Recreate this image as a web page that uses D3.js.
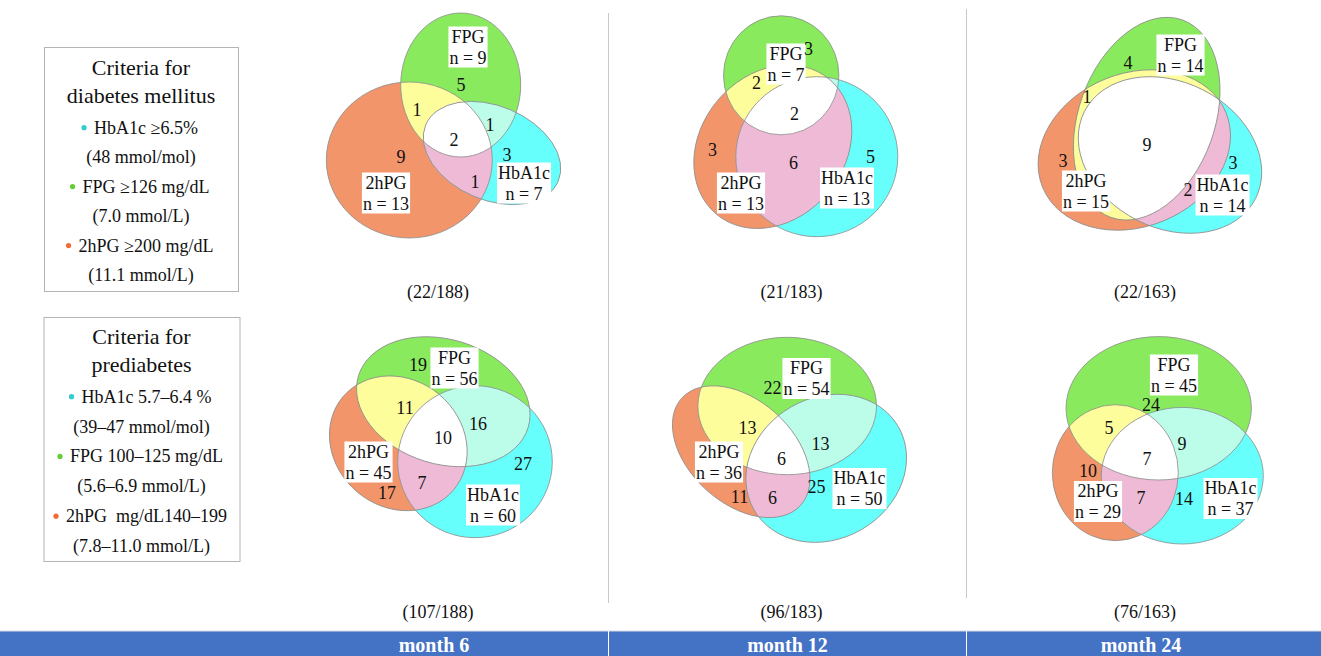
<!DOCTYPE html>
<html lang="en">
<head>
<meta charset="utf-8">
<title>Diabetes and prediabetes criteria</title>
<script src="https://d3js.org/d3.v7.min.js"></script>
<style>
  body { margin: 0; background: #fff; }
  svg { display: block; }
  svg text { font-family: "Liberation Serif", "Times New Roman", "DejaVu Serif", serif; }
</style>
</head>
<body>
<svg id="chart" width="1321" height="656"></svg>
<script>
// ---- data ----
const months = ["month 6", "month 12", "month 24"];
const cohort = [188, 183, 163];
const sets = ["FPG", "2hPG", "HbA1c"];
// regions: FPG only, 2hPG only, HbA1c only, FPG+2hPG, FPG+HbA1c, 2hPG+HbA1c, all three
const regionSets = [[0], [1], [2], [0, 1], [0, 2], [1, 2], [0, 1, 2]];
const diabetes = [[5, 9, 3, 1, 1, 1, 2], [3, 3, 5, 2, 0, 6, 2], [4, 3, 3, 1, 0, 2, 9]];
const prediabetes = [[19, 17, 27, 11, 16, 7, 10], [22, 11, 25, 13, 13, 6, 6], [24, 10, 14, 5, 9, 7, 7]];

const legendTitles = [["Criteria for", "diabetes mellitus"], ["Criteria for", "prediabetes"]];
const legendLines = [
  ["HbA1c ≥6.5%", "(48 mmol/mol)", "FPG ≥126 mg/dL", "(7.0 mmol/L)", "2hPG ≥200 mg/dL", "(11.1 mmol/L)"],
  ["HbA1c 5.7–6.4 %", "(39–47 mmol/mol)", "FPG 100–125 mg/dL", "(5.6–6.9 mmol/L)", "2hPG  mg/dL140–199", "(7.8–11.0 mmol/L)"]
];
const legendDots = [2, null, 0, null, 1, null];

// ---- layout (panel-local shapes: cx, cy, rx, ry, rotation) ----
const shapes = {
  diabetes: [
    [[22.7, 85, 60, 72, 0], [-28.7, 160, 83, 78, 0], [54, 153, 72, 47, 23]],
    [[-10.3, 75.3, 57.7, 59.5, 0], [-18.7, 146.7, 88, 72, -50], [25.3, 156.7, 81, 80, 0]],
    [[1.7, 118.7, 105, 68, -70], [-10.7, 150, 99, 76.7, -22], [25, 155, 96, 73, 27]]
  ],
  prediabetes: [
    [[5.3, 81.7, 88.7, 62.3, 17], [-39.7, 123.3, 72.3, 63.7, 40], [37, 141.7, 77.3, 76, 0]],
    [[-4.3, 86, 89.3, 68.7, 0], [-50.3, 131.7, 80, 51.7, 42], [34.7, 148.3, 83.3, 70.7, -30]],
    [[13.7, 88.3, 92.7, 71.7, 0], [-29.7, 152.7, 63, 68, 0], [37.3, 155.7, 81, 68.3, 0]]
  ]
};
const spots = {
  diabetes: [
    [[23, 85], [-37, 157], [69, 155], [-21, 110], [52, 125], [37, 182], [16, 140]],
    [[17, 49], [-79, 150], [79, 157], [-35, 83], null, [2, 163], [3, 114]],
    [[-17, 63], [-82, 161], [88, 163], [-58, 97], null, [43, 190], [2, 145]]
  ],
  prediabetes: [
    [[-20, 45], [-51, 173], [85, 144], [-33, 88], [40, 104], [-16, 163], [5, 118]],
    [[-19, 68], [-52, 177], [25, 167], [-44, 108], [29, 124], [-19, 178], [-10, 139]],
    [[6, 85], [-57, 151], [39, 179], [-36, 108], [37, 124], [-4, 178], [2, 139]]
  ]
};
const tags = {
  diabetes: [
    [[30, 47], [-52, 193], [86, 183]],
    [[-5.5, 64], [-50.5, 193], [55.5, 188]],
    [[35.5, 55], [-59, 191], [77.5, 195]]
  ],
  prediabetes: [
    [[16.5, 48], [-69.5, 142], [55, 185]],
    [[15, 58.5], [-72.5, 142], [68, 168.5]],
    [[29, 55], [-47, 181.5], [85.5, 178.5]]
  ]
};

const setColors = ["#89ea5e", "#f2956b", "#67fffb"];
const pairColors = ["#fdfd9c", "#bcfde9", "#eebad6"];
const pairs = [[0, 1], [0, 2], [1, 2]];
const dotColors = ["#66cc33", "#f26b35", "#33cccc"];
const serif = "Liberation Serif, Times New Roman, DejaVu Serif, serif";

const svg = d3.select("#chart").attr("font-family", serif);
const defs = svg.append("defs");

const col = d3.scalePoint().domain(months).range([438, 1145]);
const row = d3.scalePoint().domain(["diabetes", "prediabetes"]).range([0, 320]);

function label(sel) {
  return sel.append("text").attr("font-family", serif).attr("fill", "#111")
    .attr("dominant-baseline", "central");
}

function drawPanel(rowKey, counts, ci) {
  const m = months[ci];
  const ox = col(m), oy = row(rowKey);
  const x = d3.scaleLinear().domain([-200, 200]).range([ox - 200, ox + 200]);
  const y = d3.scaleLinear().domain([0, 300]).range([oy, oy + 300]);
  const shp = shapes[rowKey][ci];
  const id = k => `clip-${rowKey}-${ci}-${k}`;
  const ell = (sel, s) => sel.append("ellipse")
    .attr("cx", x(s[0])).attr("cy", y(s[1]))
    .attr("rx", s[2]).attr("ry", s[3])
    .attr("transform", `rotate(${s[4]},${x(s[0])},${y(s[1])})`);

  shp.forEach((s, k) => ell(defs.append("clipPath").attr("id", id(k)), s));

  const g = svg.append("g");
  [1, 0, 2].forEach(k => ell(g, shp[k]).attr("fill", setColors[k]));
  pairs.forEach(([a, b], j) => {
    ell(g.append("g").attr("clip-path", `url(#${id(b)})`), shp[a]).attr("fill", pairColors[j]);
  });
  ell(g.append("g").attr("clip-path", `url(#${id(1)})`)
       .append("g").attr("clip-path", `url(#${id(2)})`), shp[0]).attr("fill", "#fff");
  shp.forEach(s => ell(g, s).attr("fill", "none").attr("stroke", "#8c8c8c").attr("stroke-width", 0.8));

  // set name boxes
  sets.forEach((name, k) => {
    const n = d3.sum(counts.filter((c, i) => regionSets[i].includes(k)));
    const t = tags[rowKey][ci][k];
    const tg = g.append("g").attr("transform", `translate(${x(t[0])},${y(t[1])})`);
    const box = tg.append("rect").attr("fill", "#fff");
    const tx = tg.append("g");
    [name, `n = ${n}`].forEach((s, j) => {
      label(tx).attr("text-anchor", "middle")
        .attr("y", j === 0 ? -10.5 : 10.5).attr("font-size", 18).text(s);
    });
    const bb = tx.node().getBBox();
    box.attr("x", bb.x - 1).attr("y", bb.y).attr("width", bb.width + 2).attr("height", bb.height);
  });

  // region counts
  counts.forEach((c, i) => {
    const p = spots[rowKey][ci][i];
    if (!p || c === 0) return;
    label(g).attr("x", x(p[0])).attr("y", y(p[1]))
      .attr("text-anchor", "middle").attr("font-size", 18).text(c);
  });

  // caption
  label(g).attr("x", x(0)).attr("y", y(292))
    .attr("text-anchor", "middle").attr("font-size", 18)
    .text(`(${d3.sum(counts)}/${cohort[ci]})`);
}

diabetes.forEach((c, i) => drawPanel("diabetes", c, i));
prediabetes.forEach((c, i) => drawPanel("prediabetes", c, i));

// dividers
[[608.5, 13, 603], [966.5, 9, 598]].forEach(([lx, y1, y2]) => {
  svg.append("line").attr("x1", lx).attr("x2", lx).attr("y1", y1).attr("y2", y2)
    .attr("stroke", "#c8c8c8").attr("stroke-width", 1);
});

// legends
const legendBoxes = [[44, 47, 194, 244], [43.5, 317, 196, 244]];
const titleY = [[67, 95], [336.7, 364.3]];
const lineY = d3.scaleLinear().domain([0, 5]);
legendBoxes.forEach((b, li) => {
  const lg = svg.append("g");
  lg.append("rect").attr("x", b[0] + 0.5).attr("y", b[1] + 0.5).attr("width", b[2]).attr("height", b[3])
    .attr("fill", "none").attr("stroke", "#b4b4b4").attr("stroke-width", 1);
  const cx = b[0] + b[2] / 2;
  legendTitles[li].forEach((t, j) => {
    label(lg).attr("x", cx).attr("y", titleY[li][j]).attr("text-anchor", "middle")
      .attr("font-size", 22).text(t);
  });
  const ly = lineY.copy().range(li === 0 ? [127.7, 275] : [396.7, 546]);
  legendLines[li].forEach((t, j) => {
    const txt = label(lg).attr("y", ly(j)).attr("font-size", 18)
      .style("white-space", "pre").text(t);
    const w = txt.node().getComputedTextLength();
    const dot = legendDots[j];
    const gap = dot === null ? 0 : 10;
    const start = cx - (w + gap) / 2 + gap;
    txt.attr("x", start);
    if (dot !== null) {
      lg.append("circle").attr("cx", start - 10).attr("cy", ly(j)).attr("r", 2.6).attr("fill", dotColors[dot]);
    }
  });
});

// bottom bar
svg.append("rect").attr("x", 0).attr("y", 631).attr("width", 1321).attr("height", 25).attr("fill", "#4472c4");
svg.append("line").attr("x1", 0).attr("x2", 1321).attr("y1", 631).attr("y2", 631).attr("stroke", "#d6dcea").attr("stroke-width", 1);
[608.5, 966.5].forEach(lx => {
  svg.append("line").attr("x1", lx).attr("x2", lx).attr("y1", 631).attr("y2", 656).attr("stroke", "#fff").attr("stroke-width", 1);
});
months.forEach(m => {
  svg.append("text").attr("font-family", serif).attr("x", col(m) - 4).attr("y", 644.5).attr("text-anchor", "middle")
    .attr("dominant-baseline", "central").attr("font-size", 20).attr("font-weight", "bold")
    .attr("fill", "#fff").text(m);
});
</script>
</body>
</html>
